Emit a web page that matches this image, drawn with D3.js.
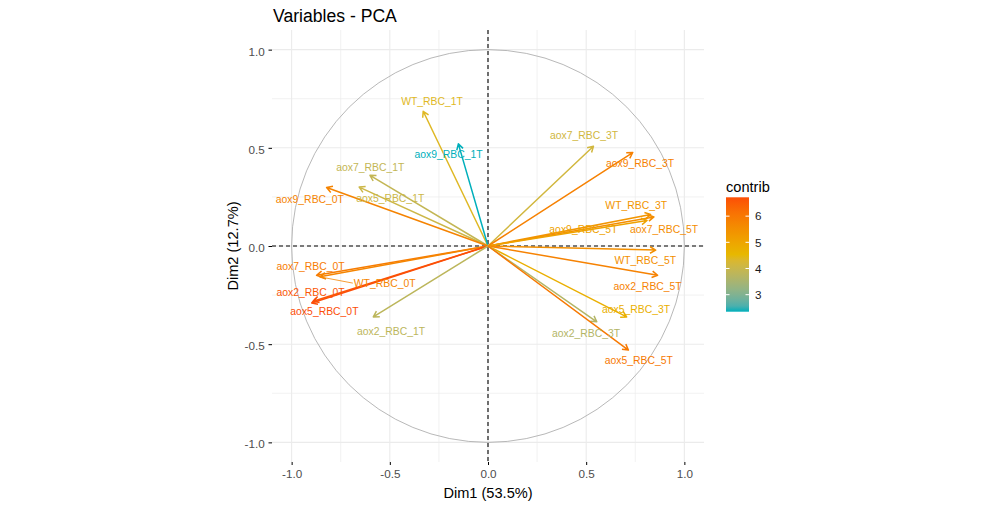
<!DOCTYPE html>
<html>
<head>
<meta charset="utf-8">
<script src="https://cdn.jsdelivr.net/npm/d3@7"></script>
<style>
  html, body { margin: 0; padding: 0; background: #ffffff; }
  svg { display: block; font-family: "Liberation Sans", Arial, sans-serif; }
</style>
</head>
<body>
<svg id="chart" width="1000" height="508"></svg>
<script>
// ---------------- data ----------------
const vars = [
  "WT_RBC_1T", "aox9_RBC_1T", "aox7_RBC_1T", "aox5_RBC_1T", "aox9_RBC_0T",
  "aox7_RBC_0T", "WT_RBC_0T", "aox2_RBC_0T", "aox5_RBC_0T", "aox2_RBC_1T",
  "aox7_RBC_3T", "aox9_RBC_3T", "WT_RBC_3T", "aox7_RBC_5T", "aox9_RBC_5T",
  "WT_RBC_5T", "aox2_RBC_5T", "aox5_RBC_3T", "aox2_RBC_3T", "aox5_RBC_5T"
];
const dim1 = [-0.330, -0.151, -0.601, -0.656, -0.822,
              -0.873, -0.856, -0.890, -0.898, -0.584,
               0.537,  0.737,  0.828,  0.845,  0.810,
               0.854,  0.864,  0.706,  0.554,  0.715];
const dim2 = [ 0.686,  0.520,  0.360,  0.300,  0.298,
              -0.149, -0.157, -0.281, -0.290, -0.361,
               0.508,  0.476,  0.160,  0.148,  0.130,
              -0.021, -0.149, -0.361, -0.386, -0.530];
const contrib = [4.38, 2.35, 3.90, 4.05, 5.77,
                 5.92, 5.72, 6.58, 6.72, 3.80,
                 4.15, 5.81, 5.37, 5.56, 5.08,
                 5.51, 5.80, 4.75, 3.65, 5.98];
// label positions chosen by the (repelled) text layout, in data units
const labelX = [-0.285, -0.201, -0.599, -0.498, -0.907,
                -0.904, -0.526, -0.904, -0.833, -0.494,
                 0.489,  0.774,  0.755,  0.897,  0.486,
                 0.801,  0.813,  0.754,  0.499,  0.768];
const labelY = [ 0.735,  0.469,  0.401,  0.243,  0.240,
                -0.101, -0.189, -0.235, -0.333, -0.432,
                 0.566,  0.421,  0.210,  0.0875, 0.0875,
                -0.074, -0.206, -0.322, -0.444, -0.583];
const labelLinked = ["WT_RBC_0T"];
const axisTicks = [-1.0, -0.5, 0.0, 0.5, 1.0];
const minorTicks = [-0.75, -0.25, 0.25, 0.75];
const legendTicks = [3, 4, 5, 6];
const gradientCols = ["#00AFBB", "#E7B800", "#FC4E07"];
const titleText = "Variables - PCA";
const xTitle = "Dim1 (53.5%)";
const yTitle = "Dim2 (12.7%)";
const legendTitle = "contrib";

// ---------------- layout ----------------
const svg = d3.select("#chart");
const panel = { left: 272, right: 704, top: 30, bottom: 462 };
const x = d3.scaleLinear().domain([-1.1, 1.1]).range([panel.left, panel.right]);
const y = d3.scaleLinear().domain([-1.1, 1.1]).range([panel.bottom, panel.top]);

const cMin = d3.min(contrib), cMax = d3.max(contrib);
const color = d3.scaleLinear()
  .domain([cMin, (cMin + cMax) / 2, cMax])
  .range(gradientCols)
  .interpolate(d3.interpolateLab);

// grid
const grid = svg.append("g");
minorTicks.forEach(t => {
  grid.append("line").attr("x1", x(t)).attr("x2", x(t)).attr("y1", panel.top).attr("y2", panel.bottom)
    .attr("stroke", "#EBEBEB").attr("stroke-width", 0.7);
  grid.append("line").attr("y1", y(t)).attr("y2", y(t)).attr("x1", panel.left).attr("x2", panel.right)
    .attr("stroke", "#EBEBEB").attr("stroke-width", 0.7);
});
axisTicks.forEach(t => {
  grid.append("line").attr("x1", x(t)).attr("x2", x(t)).attr("y1", panel.top).attr("y2", panel.bottom)
    .attr("stroke", "#EBEBEB").attr("stroke-width", 1.1);
  grid.append("line").attr("y1", y(t)).attr("y2", y(t)).attr("x1", panel.left).attr("x2", panel.right)
    .attr("stroke", "#EBEBEB").attr("stroke-width", 1.1);
});

// axes
const fmt = d => d.toFixed(1);
const gx = svg.append("g").attr("transform", `translate(0,${panel.bottom})`)
  .call(d3.axisBottom(x).tickValues(axisTicks).tickFormat(fmt).tickSize(3).tickPadding(5));
const gy = svg.append("g").attr("transform", `translate(${panel.left},0)`)
  .call(d3.axisLeft(y).tickValues(axisTicks).tickFormat(fmt).tickSize(3.5).tickPadding(3.8));
[gx, gy].forEach(g => {
  g.select(".domain").remove();
  g.selectAll(".tick line").attr("stroke", "#000").attr("stroke-width", 1);
  g.selectAll(".tick text").attr("fill", "#4D4D4D").attr("font-size", "11.7px")
    .attr("font-family", "Liberation Sans, Arial, sans-serif");
});
gy.selectAll(".tick text").attr("dy", "0.48em");
gx.selectAll(".tick text").attr("dy", "0.71em");

// unit circle
svg.append("circle").attr("cx", x(0)).attr("cy", y(0))
  .attr("r", x(1) - x(0))
  .attr("fill", "none").attr("stroke", "#A6A6A6").attr("stroke-width", 0.8);

// dashed reference lines
svg.append("line").attr("x1", panel.left).attr("x2", panel.right).attr("y1", y(0)).attr("y2", y(0))
  .attr("stroke", "#000").attr("stroke-width", 1.1).attr("stroke-dasharray", "4,3");
svg.append("line").attr("y1", panel.top).attr("y2", panel.bottom).attr("x1", x(0)).attr("x2", x(0))
  .attr("stroke", "#000").attr("stroke-width", 1.1).attr("stroke-dasharray", "4,3");

// arrows
const rows = vars.map((v, i) => ({
  name: v, d1: dim1[i], d2: dim2[i], c: contrib[i], lx: labelX[i], ly: labelY[i]
}));
const headLen = 6.5, headAng = Math.PI / 6;
svg.append("g").selectAll("path").data(rows).join("path")
  .attr("d", d => {
    const x0 = x(0), y0 = y(0), x1 = x(d.d1), y1 = y(d.d2);
    const a = Math.atan2(y1 - y0, x1 - x0);
    const p1 = [x1 - headLen * Math.cos(a - headAng), y1 - headLen * Math.sin(a - headAng)];
    const p2 = [x1 - headLen * Math.cos(a + headAng), y1 - headLen * Math.sin(a + headAng)];
    return `M${x0},${y0}L${x1},${y1}M${p1[0]},${p1[1]}L${x1},${y1}L${p2[0]},${p2[1]}`;
  })
  .attr("fill", "none")
  .attr("stroke", d => color(d.c))
  .attr("stroke-width", 1.5)
  .attr("stroke-linejoin", "round");

// labels
const lab = svg.append("g");
rows.forEach(d => {
  const t = lab.append("text")
    .attr("x", x(d.lx)).attr("y", y(d.ly)).attr("dy", "0.36em")
    .attr("text-anchor", "middle")
    .attr("font-size", "10.4px")
    .attr("fill", color(d.c))
    .text(d.name);
  if (labelLinked.includes(d.name)) {
    const bb = t.node().getBBox();
    lab.append("line")
      .attr("x1", bb.x - 1).attr("y1", y(d.ly))
      .attr("x2", x(d.d1)).attr("y2", y(d.d2))
      .attr("stroke", color(d.c)).attr("stroke-width", 0.8);
  }
});

// titles
svg.append("text").attr("x", 273).attr("y", 21.7).attr("font-size", "17.6px").attr("fill", "#000")
  .text(titleText);
svg.append("text").attr("x", x(0)).attr("y", 498).attr("text-anchor", "middle")
  .attr("font-size", "14.6px").attr("fill", "#000").text(xTitle);
svg.append("text").attr("transform", `translate(237.5,${y(0)}) rotate(-90)`).attr("text-anchor", "middle")
  .attr("font-size", "14.6px").attr("fill", "#000").text(yTitle);

// legend
const leg = { x: 726, w: 23, top: 197.3, bottom: 311.7 };
const ly = d3.scaleLinear().domain([cMin, cMax]).range([leg.bottom, leg.top]);
const defs = svg.append("defs");
const grad = defs.append("linearGradient").attr("id", "cbar")
  .attr("x1", "0").attr("y1", "1").attr("x2", "0").attr("y2", "0");
d3.range(0, 1.0001, 0.05).forEach(t => {
  grad.append("stop").attr("offset", t).attr("stop-color", color(cMin + t * (cMax - cMin)));
});
svg.append("rect").attr("x", leg.x).attr("y", leg.top).attr("width", leg.w)
  .attr("height", leg.bottom - leg.top).attr("fill", "url(#cbar)");
legendTicks.forEach(t => {
  svg.append("line").attr("x1", leg.x).attr("x2", leg.x + 3.5).attr("y1", ly(t)).attr("y2", ly(t))
    .attr("stroke", "#fff").attr("stroke-width", 1);
  svg.append("line").attr("x1", leg.x + leg.w - 3.5).attr("x2", leg.x + leg.w).attr("y1", ly(t)).attr("y2", ly(t))
    .attr("stroke", "#fff").attr("stroke-width", 1);
  svg.append("text").attr("x", leg.x + leg.w + 6).attr("y", ly(t)).attr("dy", "0.36em")
    .attr("font-size", "11.7px").attr("fill", "#1A1A1A").text(t);
});
svg.append("text").attr("x", leg.x).attr("y", 191.5).attr("font-size", "14.6px").attr("fill", "#000")
  .text(legendTitle);
</script>
</body>
</html>
